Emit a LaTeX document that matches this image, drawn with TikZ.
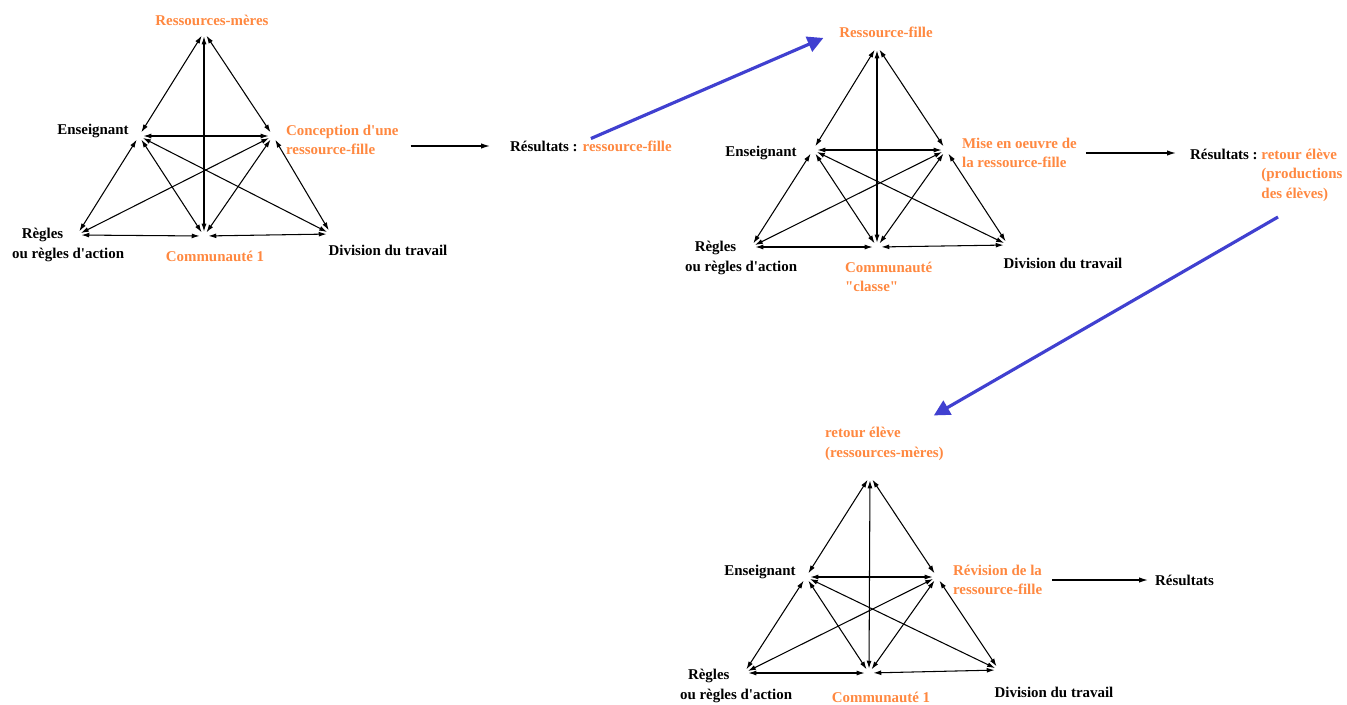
\documentclass[tikz,border=0pt]{standalone}
\usepackage{fontspec}
\setmainfont{Liberation Serif}
\usetikzlibrary{arrows.meta}

\definecolor{orng}{RGB}{255,136,64}
\definecolor{arrowblue}{RGB}{64,64,208}

\begin{document}
\begin{tikzpicture}[x=0.02cm, y=-0.02cm,
  every node/.style={font=\bfseries\fontsize{8.5}{11}\selectfont, inner sep=1pt},
  vtx/.style={circle, inner sep=0pt, minimum size=0.16cm},
  lab/.style={text=black},
  olab/.style={text=orng},
  link/.style={{Latex[length=4.5pt,width=2.8pt]}-{Latex[length=4.5pt,width=2.8pt]}, line width=0.6pt},
  flow/.style={-{Latex[length=5pt,width=3pt]}, line width=0.7pt},
  bigarrow/.style={-{Triangle[length=9pt,width=9pt]}, arrowblue, line width=1.8pt}]
\useasboundingbox (0,0) rectangle (1347,704);

% first triangle
\node[vtx] (t1) at (204,32) {};
\node[vtx] (e1) at (139,136) {};
\node[vtx] (c1) at (273,136) {};
\node[vtx] (r1) at (77,235) {};
\node[vtx] (m1) at (204,236) {};
\node[vtx] (d1) at (331,234) {};
\node[olab] (t1l) at (212,20) {Ressources-mères};
\node[lab] (e1l) at (93,131) {Enseignant};
\node[olab, anchor=west, align=left] (c1l) at (284,140) {Conception d\textquotesingle une\\ressource-fille};
\node[lab, anchor=west, align=left] (r1l) at (10,245) {\hspace{5.5pt}Règles\\ou règles d\textquotesingle action};
\node[olab] (m1l) at (215,256) {Communauté 1};
\node[lab] (d1l) at (388,250) {Division du travail};
\path[link] (t1) edge (e1) edge (c1) edge (m1)
  (e1) edge (c1) edge (r1) edge (m1) edge (d1)
  (c1) edge (d1) edge (m1) edge (r1)
  (r1) edge (m1) (m1) edge (d1);
\node[lab, anchor=west] (res1) at (508,146) {Résultats : \textcolor{orng}{ressource-fille}};
\draw[flow, shorten <=0.2cm, shorten >=0.36cm] (c1l.east |- res1) -- (res1);

% second triangle
\node[vtx] (t2) at (877,46) {};
\node[vtx] (e2) at (813,150) {};
\node[vtx] (c2) at (946,150) {};
\node[vtx] (r2) at (751,247) {};
\node[vtx] (m2) at (877,247) {};
\node[vtx] (d2) at (1008,245) {};
\node[olab] (t2l) at (886,32) {Ressource-fille};
\node[lab] (e2l) at (761,153) {Enseignant};
\node[olab, anchor=west, align=left] (c2l) at (960,153) {Mise en oeuvre de\\la ressource-fille};
\node[lab, anchor=west, align=left] (r2l) at (683,258) {\hspace{5.5pt}Règles\\ou règles d\textquotesingle action};
\node[olab, anchor=west, align=left] (m2l) at (843,277) {Communauté\\\textquotedbl classe\textquotedbl};
\node[lab] (d2l) at (1063,263) {Division du travail};
\path[link] (t2) edge (e2) edge (c2) edge (m2)
  (e2) edge (c2) edge (r2) edge (m2) edge (d2)
  (c2) edge (d2) edge (m2) edge (r2)
  (r2) edge (m2) (m2) edge (d2);
\node[lab, anchor=north west] (res2) at (1188,144) {\begin{tabular}[t]{@{}l@{\ }l@{}}Résultats : & \textcolor{orng}{retour élève}\\
  & \textcolor{orng}{(productions}\\ & \textcolor{orng}{des élèves)}\end{tabular}};
\draw[flow, shorten <=0.14cm, shorten >=0.24cm] (c2l.east) -- (c2l.east -| res2.west);

% third triangle
\node[vtx] (t3) at (870,476) {};
\node[vtx] (e3) at (806,577) {};
\node[vtx] (c3) at (937,577) {};
\node[vtx] (r3) at (744,673) {};
\node[vtx] (m3) at (869,673) {};
\node[vtx] (d3) at (999,670) {};
\node[olab, anchor=west, align=left] (t3l) at (823,444) {retour élève\\(ressources-mères)};
\node[lab] (e3l) at (760,572) {Enseignant};
\node[olab, anchor=west, align=left] (c3l) at (951,580) {Révision de la\\ressource-fille};
\node[lab, anchor=west, align=left] (r3l) at (678,686) {\hspace{4.5pt}Règles\\ou règles d\textquotesingle action};
\node[olab] (m3l) at (881,697) {Communauté 1};
\node[lab] (d3l) at (1054,692) {Division du travail};
\path[link] (t3) edge (e3) edge (c3) edge (m3)
  (e3) edge (c3) edge (r3) edge (m3) edge (d3)
  (c3) edge (d3) edge (m3) edge (r3)
  (r3) edge (m3) (m3) edge (d3);
\node[lab, anchor=west] (res3) at (1153,580) {Résultats};
\draw[flow, shorten <=0.16cm, shorten >=0.1cm] (c3l) -- (res3);

% links between the steps
\draw[bigarrow, shorten >=0.3cm] (res1.north) -- (t2l.west);
\coordinate (fb) at (1278,217);
\draw[bigarrow] (fb) -- ([shift={(-12,-10)}]t3l.north east);
\end{tikzpicture}
\end{document}
